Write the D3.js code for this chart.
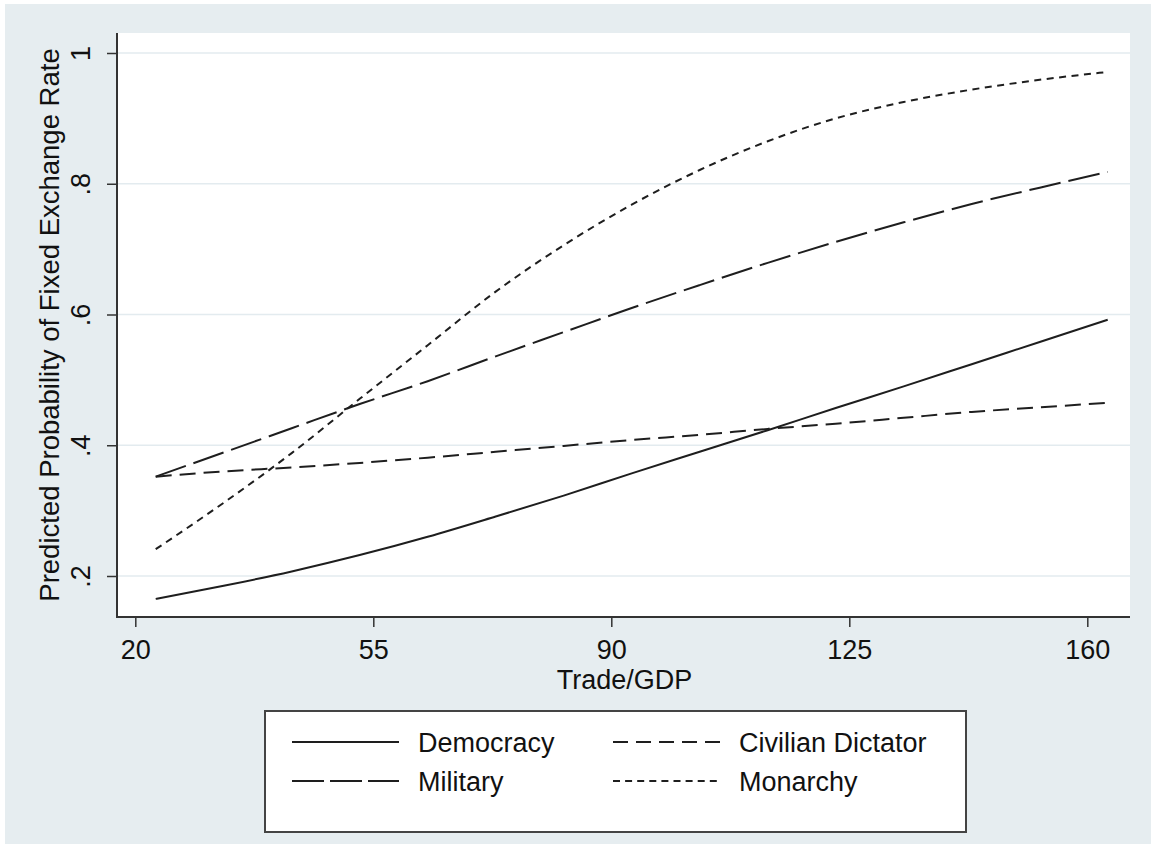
<!DOCTYPE html>
<html>
<head>
<meta charset="utf-8">
<script src="https://cdn.jsdelivr.net/npm/d3@7"></script>
<style>
  html, body { margin: 0; padding: 0; background: #ffffff; }
  svg { display: block; }
  text { font-family: "Liberation Sans", Arial, Helvetica, sans-serif; fill: #111; }
</style>
</head>
<body>
<svg id="chart" width="1151" height="844"></svg>
<script>
// Trade/GDP values at which predicted probabilities are plotted
const tradeGDP = [23, 33, 43, 53, 63, 73, 83, 93, 103, 113, 123, 133, 143, 153, 163];

// Predicted probability of a fixed exchange rate, by regime type
const democracy = [0.165, 0.185, 0.207, 0.232, 0.260, 0.291, 0.323, 0.357, 0.390, 0.423, 0.457, 0.490, 0.524, 0.558, 0.592];
const civilianDictator = [0.352, 0.360, 0.366, 0.373, 0.381, 0.390, 0.399, 0.408, 0.416, 0.425, 0.433, 0.442, 0.451, 0.458, 0.465];
const military = [0.352, 0.389, 0.426, 0.463, 0.498, 0.536, 0.573, 0.610, 0.645, 0.679, 0.711, 0.741, 0.769, 0.794, 0.818];
const monarchy = [0.241, 0.312, 0.388, 0.471, 0.553, 0.635, 0.706, 0.768, 0.821, 0.865, 0.900, 0.925, 0.944, 0.959, 0.971];

// Axis ticks
const xTicks = [20, 55, 90, 125, 160];
const yTicks = [0.2, 0.4, 0.6, 0.8, 1];

// Series names and line patterns
const seriesNames = ["Democracy", "Civilian Dictator", "Military", "Monarchy"];
const seriesValues = [democracy, civilianDictator, military, monarchy];
const plotDash = [null, "16 8", "32 8", "7 5.5"];
const legendDash = [null, "15 8", "32 6", "7 5.1"];

const svg = d3.select("#chart");
const W = 1151, H = 844;

// Graph region background
svg.append("rect").attr("x", 5).attr("y", 4).attr("width", W - 5).attr("height", H - 4)
  .attr("fill", "#e6edf0");

// Plot region bounds
const plot = { left: 117, right: 1130, top: 33, bottom: 617 };

const x = d3.scaleLinear().domain([20, 160]).range([135.3, 1087.3]);
const y = d3.scaleLinear().domain([0.2, 1]).range([576, 53]);

svg.append("rect")
  .attr("x", plot.left).attr("y", plot.top)
  .attr("width", plot.right - plot.left).attr("height", plot.bottom - plot.top)
  .attr("fill", "#ffffff");

// Horizontal gridlines
svg.append("g").selectAll("line").data(yTicks).join("line")
  .attr("x1", plot.left).attr("x2", plot.right)
  .attr("y1", d => y(d)).attr("y2", d => y(d))
  .attr("stroke", "#e3ebef").attr("stroke-width", 1.6);

// Series lines
const line = d3.line()
  .x((d, i) => x(tradeGDP[i]))
  .y(d => y(d))
  .curve(d3.curveMonotoneX);

seriesValues.forEach((vals, k) => {
  svg.append("path")
    .datum(vals)
    .attr("d", line)
    .attr("fill", "none")
    .attr("stroke", "#1e1e1e")
    .attr("stroke-width", 2)
    .attr("stroke-dasharray", plotDash[k]);
});

// X axis
const xAxis = svg.append("g")
  .attr("transform", `translate(0,${plot.bottom})`)
  .call(d3.axisBottom(x).tickValues(xTicks).tickSize(10).tickPadding(6).tickFormat(d3.format("d")));
xAxis.select(".domain").remove();
xAxis.selectAll(".tick line").attr("stroke", "#333").attr("stroke-width", 1.5);
xAxis.selectAll(".tick text")
  .attr("font-size", 27).attr("fill", "#111")
  .attr("font-family", "'Liberation Sans', Arial, sans-serif")
  .attr("dy", "0.95em");

svg.append("line")
  .attr("x1", plot.left - 1).attr("x2", plot.right)
  .attr("y1", plot.bottom).attr("y2", plot.bottom)
  .attr("stroke", "#333").attr("stroke-width", 2);

// Y axis
const yAxis = svg.append("g")
  .attr("transform", `translate(${plot.left},0)`)
  .call(d3.axisLeft(y).tickValues(yTicks).tickSize(10)
    .tickFormat(d => d === 1 ? "1" : d3.format(".1f")(d).replace(/^0/, "")));
yAxis.select(".domain").remove();
yAxis.selectAll(".tick line").attr("stroke", "#333").attr("stroke-width", 1.5);
yAxis.selectAll(".tick text")
  .attr("font-size", 27).attr("fill", "#111")
  .attr("font-family", "'Liberation Sans', Arial, sans-serif")
  .attr("text-anchor", "middle")
  .attr("x", 0).attr("dy", 0)
  .attr("transform", "translate(-27,0) rotate(-90)");

svg.append("line")
  .attr("x1", plot.left).attr("x2", plot.left)
  .attr("y1", plot.top).attr("y2", plot.bottom)
  .attr("stroke", "#333").attr("stroke-width", 2);

// Axis titles
svg.append("text")
  .attr("x", (plot.left + plot.right) / 2 + 1).attr("y", 689)
  .attr("text-anchor", "middle").attr("font-size", 27)
  .text("Trade/GDP");

svg.append("text")
  .attr("transform", `translate(59,${(plot.top + plot.bottom) / 2}) rotate(-90)`)
  .attr("text-anchor", "middle").attr("font-size", 27.5)
  .text("Predicted Probability of Fixed Exchange Rate");

// Legend
const legend = svg.append("g");
legend.append("rect")
  .attr("x", 265).attr("y", 711).attr("width", 701).attr("height", 121)
  .attr("fill", "#ffffff").attr("stroke", "#444").attr("stroke-width", 2);

const legendPos = [
  { lx: 292, ty: 742 },
  { lx: 613, ty: 742 },
  { lx: 292, ty: 781 },
  { lx: 613, ty: 781 }
];
seriesNames.forEach((name, k) => {
  const p = legendPos[k];
  legend.append("line")
    .attr("x1", p.lx).attr("x2", p.lx + 107)
    .attr("y1", p.ty).attr("y2", p.ty)
    .attr("stroke", "#1e1e1e").attr("stroke-width", 2)
    .attr("stroke-dasharray", legendDash[k]);
  legend.append("text")
    .attr("x", p.lx + 126).attr("y", p.ty + 10)
    .attr("font-size", 27)
    .text(name);
});
</script>
</body>
</html>
